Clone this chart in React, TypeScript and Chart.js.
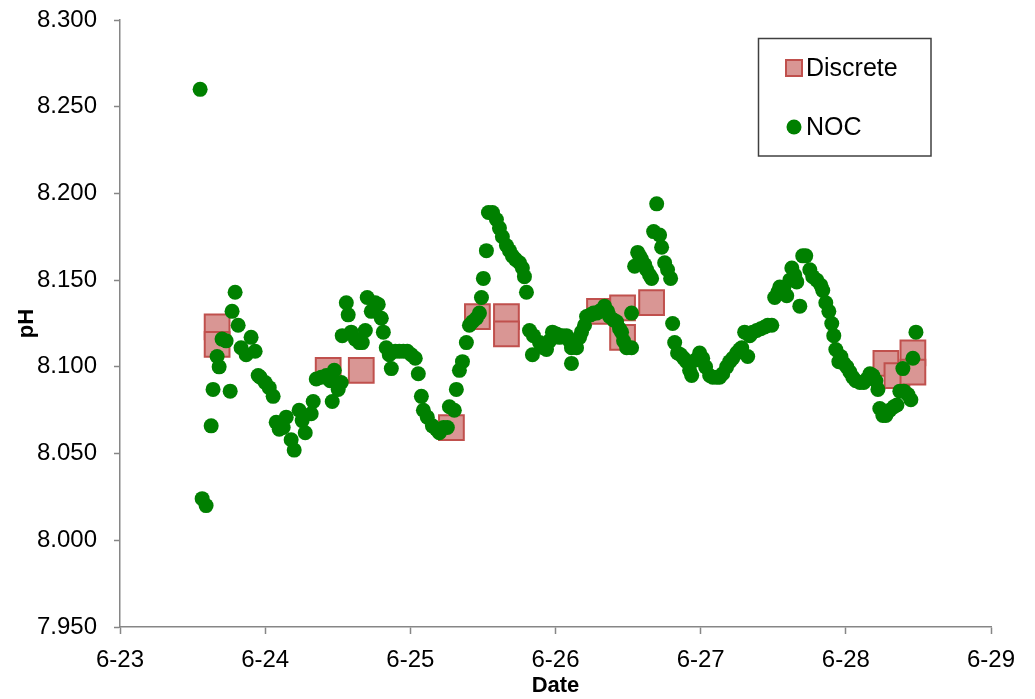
import React, { useEffect, useRef } from "react";
import { Chart, registerables } from "chart.js";

Chart.register(...registerables);

// ---- Data (x = day of June, fractional) ----
const discreteName = "Discrete";
const nocName = "NOC";

const discreteX = [23.669, 23.669, 24.434, 24.662, 25.283, 25.462, 25.662, 25.662, 26.303, 26.462, 26.462, 26.662, 28.276, 28.352, 28.462, 28.462];
const discreteY = [8.123, 8.113, 8.098, 8.098, 8.065, 8.129, 8.129, 8.119, 8.132, 8.134, 8.117, 8.137, 8.102, 8.095, 8.108, 8.097];

const nocX = [
  23.552, 23.566, 23.593, 23.628, 23.641, 23.669, 23.683, 23.703, 23.731, 23.759,
  23.772, 23.793, 23.814, 23.834, 23.869, 23.903, 23.931, 23.952, 23.966, 24.000,
  24.028, 24.055, 24.076, 24.097, 24.124, 24.145, 24.179, 24.200, 24.234, 24.255,
  24.276, 24.317, 24.331, 24.352, 24.386, 24.421, 24.448, 24.476, 24.503, 24.462,
  24.524, 24.531, 24.559, 24.572, 24.593, 24.621, 24.648, 24.669, 24.690, 24.703,
  24.731, 24.759, 24.779, 24.800, 24.814, 24.834, 24.855, 24.869, 24.897, 24.924,
  24.952, 24.979, 25.007, 25.034, 25.055, 25.076, 25.090, 25.117, 25.152, 25.179,
  25.200, 25.228, 25.255, 25.269, 25.303, 25.317, 25.338, 25.359, 25.386, 25.407,
  25.428, 25.455, 25.476, 25.490, 25.503, 25.524, 25.538, 25.566, 25.593, 25.614,
  25.634, 25.662, 25.683, 25.703, 25.724, 25.752, 25.772, 25.786, 25.800, 25.821,
  25.848, 25.841, 25.890, 25.917, 25.938, 25.959, 25.979, 26.007, 26.028, 26.048,
  26.076, 26.097, 26.110, 26.110, 26.145, 26.166, 26.179, 26.200, 26.214, 26.241,
  26.262, 26.283, 26.303, 26.324, 26.338, 26.359, 26.372, 26.400, 26.421, 26.441,
  26.455, 26.469, 26.490, 26.524, 26.524, 26.545, 26.566, 26.579, 26.593, 26.614,
  26.628, 26.648, 26.662, 26.676, 26.697, 26.717, 26.731, 26.752, 26.772, 26.793,
  26.807, 26.821, 26.841, 26.862, 26.883, 26.903, 26.924, 26.938, 26.966, 26.993,
  27.014, 27.034, 27.062, 27.083, 27.110, 27.131, 27.152, 27.179, 27.200, 27.221,
  27.248, 27.269, 27.283, 27.303, 27.324, 27.338, 27.359, 27.386, 27.414, 27.441,
  27.462, 27.490, 27.510, 27.531, 27.545, 27.572, 27.593, 27.614, 27.628, 27.648,
  27.662, 27.683, 27.703, 27.724, 27.752, 27.772, 27.800, 27.828, 27.841, 27.862,
  27.883, 27.903, 27.917, 27.931, 27.952, 27.966, 27.986, 28.007, 28.028, 28.048,
  28.069, 28.097, 28.124, 28.145, 28.166, 28.186, 28.207, 28.221, 28.234, 28.255,
  28.276, 28.303, 28.331, 28.352, 28.372, 28.400, 28.428, 28.448, 28.393, 28.462,
  28.483,
];
const nocY = [
  8.260, 8.024, 8.020, 8.066, 8.087, 8.106, 8.100, 8.116, 8.115, 8.086,
  8.132, 8.143, 8.124, 8.111, 8.107, 8.117, 8.109, 8.095, 8.094, 8.091,
  8.088, 8.083, 8.068, 8.064, 8.065, 8.071, 8.058, 8.052, 8.075, 8.069,
  8.062, 8.073, 8.080, 8.093, 8.094, 8.095, 8.092, 8.098, 8.087, 8.080,
  8.091, 8.118, 8.137, 8.130, 8.120, 8.116, 8.114, 8.114, 8.121, 8.140,
  8.132, 8.137, 8.136, 8.128, 8.120, 8.111, 8.107, 8.099, 8.109, 8.109,
  8.109, 8.109, 8.107, 8.105, 8.096, 8.083, 8.075, 8.071, 8.066, 8.064,
  8.062, 8.065, 8.065, 8.077, 8.075, 8.087, 8.098, 8.103, 8.114, 8.124,
  8.126, 8.128, 8.131, 8.140, 8.151, 8.167, 8.189, 8.189, 8.185, 8.180,
  8.175, 8.170, 8.167, 8.164, 8.162, 8.160, 8.157, 8.152, 8.143, 8.121,
  8.118, 8.107, 8.114, 8.111, 8.110, 8.115, 8.120, 8.119, 8.117, 8.118,
  8.118, 8.115, 8.111, 8.102, 8.111, 8.117, 8.120, 8.124, 8.129, 8.130,
  8.131, 8.131, 8.132, 8.133, 8.135, 8.132, 8.129, 8.127, 8.126, 8.122,
  8.120, 8.115, 8.111, 8.111, 8.131, 8.158, 8.166, 8.164, 8.162, 8.159,
  8.156, 8.153, 8.151, 8.178, 8.194, 8.176, 8.169, 8.160, 8.156, 8.151,
  8.125, 8.114, 8.108, 8.107, 8.105, 8.103, 8.098, 8.095, 8.104, 8.108,
  8.105, 8.100, 8.095, 8.094, 8.094, 8.094, 8.096, 8.100, 8.103, 8.105,
  8.108, 8.110, 8.111, 8.120, 8.106, 8.118, 8.120, 8.121, 8.122, 8.123,
  8.124, 8.124, 8.140, 8.143, 8.146, 8.145, 8.141, 8.150, 8.157, 8.153,
  8.149, 8.135, 8.164, 8.164, 8.156, 8.152, 8.150, 8.147, 8.144, 8.137,
  8.132, 8.125, 8.118, 8.110, 8.103, 8.106, 8.102, 8.100, 8.097, 8.094,
  8.092, 8.091, 8.091, 8.093, 8.096, 8.095, 8.092, 8.087, 8.076, 8.072,
  8.072, 8.075, 8.077, 8.078, 8.086, 8.086, 8.084, 8.081, 8.099, 8.105,
  8.120,
];

const xMin = 23;
const xMax = 29;
const yMin = 7.95;
const yMax = 8.3;
const yStep = 0.05;
const monthPrefix = "6-";
const xTitle = "Date";
const yTitle = "pH";

// ---- Styles ----
const FONT = '"Liberation Sans", Arial, sans-serif';
const AXIS_COLOR = "#868686";
const GREEN = "#008000";
const DISC_FILL = "#D99694";
const DISC_BORDER = "#C0504D";

const legendPlugin = {
  id: "boxLegend",
  afterDraw(chart: any) {
    const ctx = chart.ctx;
    ctx.save();
    ctx.strokeStyle = "#404040";
    ctx.lineWidth = 1.5;
    ctx.strokeRect(758.5, 38.5, 172.5, 117.5);
    // Discrete marker
    ctx.fillStyle = DISC_FILL;
    ctx.fillRect(786, 60, 16, 16);
    ctx.strokeStyle = DISC_BORDER;
    ctx.lineWidth = 2;
    ctx.strokeRect(786, 60, 16, 16);
    // NOC marker
    ctx.beginPath();
    ctx.arc(794, 127, 7.5, 0, Math.PI * 2);
    ctx.fillStyle = GREEN;
    ctx.fill();
    // texts
    ctx.fillStyle = "#000";
    ctx.font = `25px ${FONT}`;
    ctx.textAlign = "left";
    ctx.textBaseline = "middle";
    ctx.fillText(discreteName, 806, 69);
    ctx.fillText(nocName, 806, 128);
    ctx.restore();
  },
};

export default function App() {
  const canvasRef = useRef<HTMLCanvasElement | null>(null);

  useEffect(() => {
    document.body.style.margin = "0";
    const canvas = canvasRef.current;
    if (!canvas) return;
    const nocData = nocX.map((x, i) => ({ x, y: nocY[i] }));
    const discData = discreteX.map((x, i) => ({ x, y: discreteY[i] }));

    const chart = new Chart(canvas, {
      type: "scatter",
      data: {
        datasets: [
          {
            label: nocName,
            data: nocData,
            order: 0,
            pointStyle: "circle",
            pointRadius: 7.5,
            pointHoverRadius: 7.5,
            backgroundColor: GREEN,
            borderColor: GREEN,
            borderWidth: 0,
          },
          {
            label: discreteName,
            data: discData,
            order: 1,
            pointStyle: "rect",
            pointRadius: 17.5,
            pointHoverRadius: 17.5,
            backgroundColor: DISC_FILL,
            borderColor: DISC_BORDER,
            borderWidth: 2,
          },
        ],
      },
      options: {
        animation: false,
        responsive: true,
        maintainAspectRatio: false,
        layout: { padding: { left: 0, top: 20, right: 44, bottom: 0 } },
        plugins: {
          legend: { display: false },
          tooltip: { enabled: false },
        },
        scales: {
          x: {
            type: "linear",
            min: xMin,
            max: xMax,
            afterFit: (scale: any) => {
              scale.height = 72;
              scale.paddingLeft = 0;
              scale.paddingRight = 0;
            },
            grid: {
              drawOnChartArea: false,
              drawTicks: true,
              tickLength: 7,
              tickColor: AXIS_COLOR,
              tickWidth: 1.5,
            },
            border: { display: true, color: AXIS_COLOR, width: 1.5 },
            ticks: {
              stepSize: 1,
              color: "#000",
              padding: 12,
              maxRotation: 0,
              font: { family: FONT, size: 24 },
              callback: (v: any) => `${monthPrefix}${v}`,
            },
            title: {
              display: true,
              text: xTitle,
              color: "#000",
              font: { family: FONT, size: 22, weight: "bold" },
              padding: { top: 0, bottom: 0 },
            },
          },
          y: {
            type: "linear",
            min: yMin,
            max: yMax,
            afterFit: (scale: any) => {
              scale.width = 120;
              scale.paddingTop = 0;
              scale.paddingBottom = 0;
            },
            grid: {
              drawOnChartArea: false,
              drawTicks: true,
              tickLength: 6,
              tickColor: AXIS_COLOR,
              tickWidth: 1.5,
            },
            border: { display: true, color: AXIS_COLOR, width: 1.5 },
            ticks: {
              stepSize: yStep,
              color: "#000",
              padding: 17,
              font: { family: FONT, size: 24 },
              callback: (v: any) => Number(v).toFixed(3),
            },
            title: {
              display: true,
              text: yTitle,
              color: "#000",
              font: { family: FONT, size: 22, weight: "bold" },
              padding: { top: 14, bottom: 0 },
            },
          },
        },
      },
      plugins: [legendPlugin],
    });
    return () => chart.destroy();
  }, []);

  return (
    <div style={{ width: 1035, height: 699, position: "relative" }}>
      <canvas ref={canvasRef} />
    </div>
  );
}
